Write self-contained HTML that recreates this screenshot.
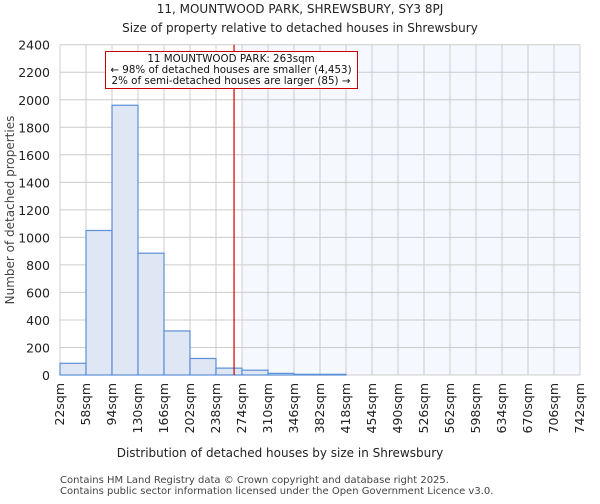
<!DOCTYPE html>
<html><head><meta charset="utf-8"><style>
body{margin:0;background:#fff;font-family:"DejaVu Sans","Liberation Sans",sans-serif;}
</style></head><body>
<svg width="600" height="500" xmlns="http://www.w3.org/2000/svg" font-family="DejaVu Sans, Liberation Sans, sans-serif">
<text x="300" y="13" text-anchor="middle" font-size="12" fill="#222">11, MOUNTWOOD PARK, SHREWSBURY, SY3 8PJ</text>
<text x="300" y="32" text-anchor="middle" font-size="12" fill="#222">Size of property relative to detached houses in Shrewsbury</text>
<g id="plot"></g>
<text x="280" y="457" text-anchor="middle" font-size="12" fill="#222">Distribution of detached houses by size in Shrewsbury</text>
<text transform="translate(14,210) rotate(-90)" text-anchor="middle" font-size="12" fill="#444">Number of detached properties</text>
<text x="60" y="483" font-size="10" fill="#444">Contains HM Land Registry data © Crown copyright and database right 2025.</text>
<text x="60" y="494" font-size="10" fill="#444">Contains public sector information licensed under the Open Government Licence v3.0.</text>
</svg>
<script>
const binStarts=[22,58,94,130,166,202,238,274,310,346,382,418,454,490,526,562,598,634,670,706];
const counts=[85,1050,1960,885,320,120,50,35,12,5,5,0,0,0,0,0,0,0,0,0];
const tickLabels=["22sqm","58sqm","94sqm","130sqm","166sqm","202sqm","238sqm","274sqm","310sqm","346sqm","382sqm","418sqm","454sqm","490sqm","526sqm","562sqm","598sqm","634sqm","670sqm","706sqm","742sqm"];
const yTicks=[0,200,400,600,800,1000,1200,1400,1600,1800,2000,2200,2400];
const propertySize=263;
const binWidth=36;
const NS="http://www.w3.org/2000/svg";
const x0=60,x1=580,yTop=44.7,yBot=375,xMin=22,xMax=742,yMax=2400;
const X=v=>x0+(v-xMin)/(xMax-xMin)*(x1-x0);
const Y=v=>yBot-v/yMax*(yBot-yTop);
const g=document.getElementById('plot');
function mk(t,a){const e=document.createElementNS(NS,t);for(const k in a)e.setAttribute(k,a[k]);g.appendChild(e);return e;}
const sx=X(274);
let e=mk('rect',{x:sx,y:yTop,width:x1-sx,height:yBot-yTop,fill:'#f5f8fe'});


yTicks.forEach(t=>{let l=mk('line',{x1:x0,x2:x1,y1:Y(t),y2:Y(t),stroke:'#ccc','stroke-width':1});


let tx=mk('text',{x:x0-10,y:Y(t)+5,'text-anchor':'end','font-size':12.5,fill:'#222'});tx.textContent=t;

});
tickLabels.forEach((s,i)=>{const v=xMin+i*binWidth;let l=mk('line',{x1:X(v),x2:X(v),y1:yTop,y2:yBot,stroke:'#ccc','stroke-width':1});


let tx=mk('text',{transform:`translate(${X(v)+4},${yBot+8}) rotate(-90)`,'text-anchor':'end','font-size':12.5,fill:'#222'});tx.textContent=s;

});
counts.forEach((c,i)=>{if(c<=0)return;const a=X(binStarts[i]),b=X(binStarts[i]+binWidth);
let r=mk('rect',{x:a,y:Y(c),width:b-a,height:yBot-Y(c),fill:'#dfe7f4',stroke:'#5b8fd6','stroke-width':1.2});

});
let rl=mk('line',{x1:X(propertySize),x2:X(propertySize),y1:yTop,y2:yBot,stroke:'#cc0000','stroke-width':1.2});


let box=mk('rect',{x:105.5,y:51.5,width:252,height:37,fill:'#fff',stroke:'#cc0000','stroke-width':1});


["11 MOUNTWOOD PARK: 263sqm","← 98% of detached houses are smaller (4,453)","2% of semi-detached houses are larger (85) →"].forEach((s,i)=>{
let t=mk('text',{x:231,y:62+i*11,'text-anchor':'middle','font-size':10.3,fill:'#111'});t.textContent=s;

});
</script>
</body></html>
